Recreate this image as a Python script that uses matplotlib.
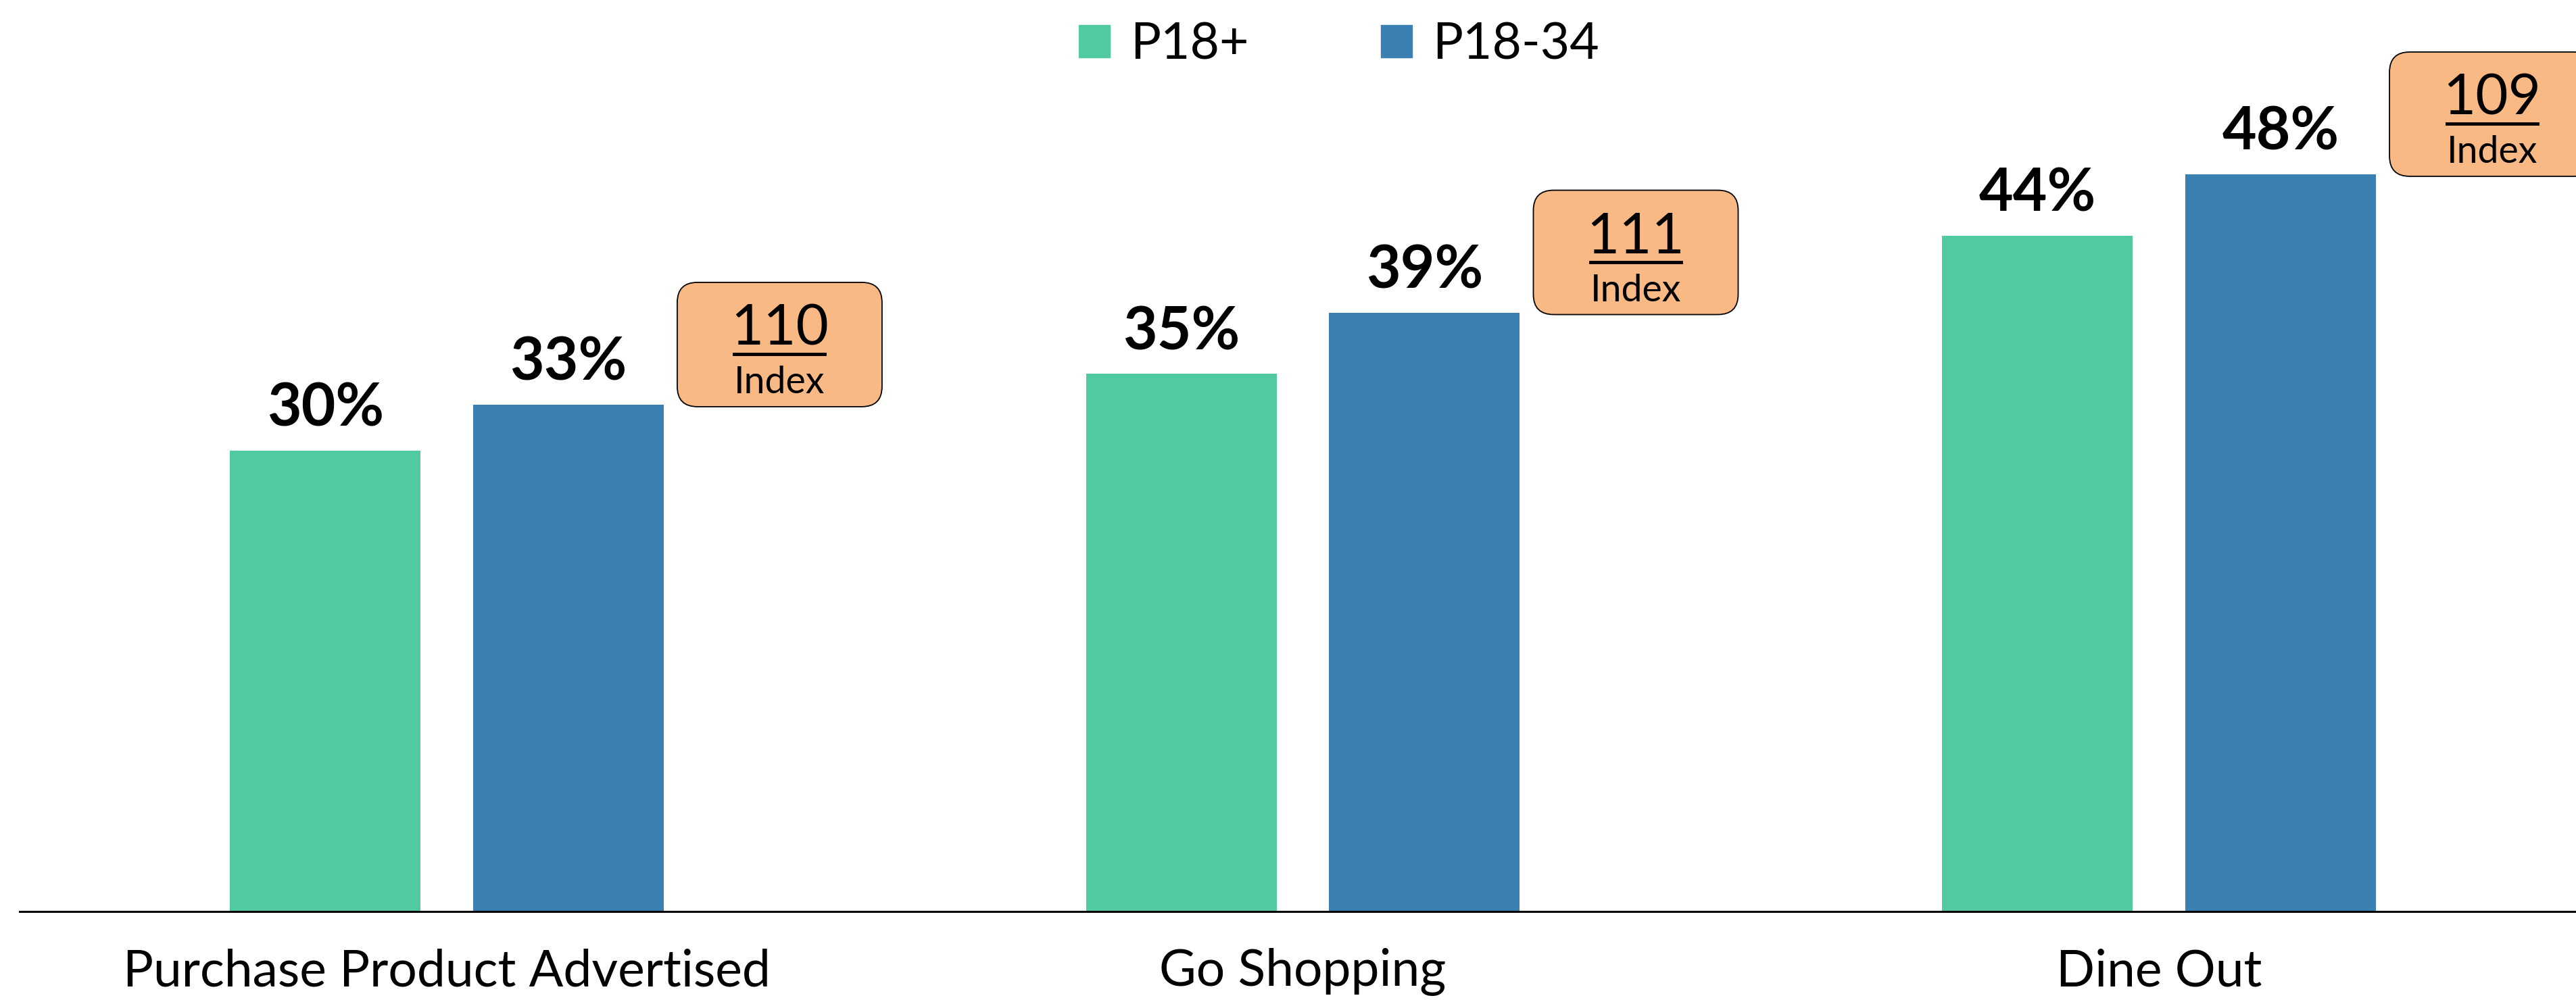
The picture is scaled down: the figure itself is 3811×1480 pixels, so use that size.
import matplotlib
matplotlib.use('Agg')
import matplotlib.pyplot as plt
import matplotlib.transforms as mtransforms
from matplotlib.patches import FancyBboxPatch, Patch
from matplotlib.lines import Line2D
import numpy as np

plt.rcParams['font.family'] = ['Lato', 'DejaVu Sans']

categories = ['Purchase Product Advertised', 'Go Shopping', 'Dine Out']
series_names = ['P18+', 'P18-34']
p18_plus = [30, 35, 44]
p18_34 = [33, 39, 48]
index_values = [110, 111, 109]

green = '#52CAA0'
blue = '#3A80B3'
badge_color = '#F9B984'

W, H, DPI = 3811, 1480, 100
fig = plt.figure(figsize=(W / DPI, H / DPI), dpi=DPI)

base_px = 1349
ax = fig.add_axes([29 / W, (H - base_px) / H, 1 - 29 / W, base_px / H])
ax.set_xlim(-0.499, 2.487)
ax.set_ylim(0, base_px / 22.73)

x = np.arange(len(categories))
off = 0.142
bw = 0.2227
ax.bar(x - off, p18_plus, width=bw, color=green, zorder=2)
ax.bar(x + off, p18_34, width=bw, color=blue, zorder=2)

# value labels
for xi, v in zip(x - off, p18_plus):
    ax.annotate(f'{v}%', (xi, v), xytext=(0, 26), textcoords='offset points',
                ha='center', va='baseline', fontsize=63, fontweight='bold')
for xi, v in zip(x + off, p18_34):
    ax.annotate(f'{v}%', (xi, v), xytext=(0, 26), textcoords='offset points',
                ha='center', va='baseline', fontsize=63, fontweight='bold')

# axis
for s in ['top', 'right', 'left']:
    ax.spines[s].set_visible(False)
ax.spines['bottom'].set_linewidth(2.2)
ax.spines['bottom'].set_color('black')
ax.set_yticks([])
ax.set_xticks([])

trans = mtransforms.blended_transform_factory(ax.transData, ax.transAxes)
for xi, c in zip(x, categories):
    ax.text(xi, -110 / base_px, c, transform=trans, ha='center', va='baseline',
            fontsize=54)

# legend
handles = [Patch(color=green, label=series_names[0]),
           Patch(color=blue, label=series_names[1])]
fig.legend(handles=handles, loc='center', bbox_to_anchor=(1981 / W, 1 - 66 / H),
           ncol=2, frameon=False, fontsize=54, handlelength=0.62,
           handleheight=0.62, handletextpad=0.4, columnspacing=2.6)

# index badges
ident = mtransforms.IdentityTransform()
bw_px, bh_px = 303, 184
for xi, v, idx in zip(x + off, p18_34, index_values):
    right_px = ax.transData.transform((xi + bw / 2, v))
    x0 = right_px[0] + 20
    y0 = right_px[1] - 3
    box = FancyBboxPatch((x0, y0), bw_px, bh_px,
                         boxstyle='round,pad=0,rounding_size=30',
                         facecolor=badge_color, edgecolor='black', linewidth=1.3,
                         transform=ident)
    fig.add_artist(box)
    cx = x0 + bw_px / 2
    fig.text(cx, y0 + 91, str(idx), transform=ident, ha='center', va='baseline',
             fontsize=60)
    fig.add_artist(Line2D([cx - 67, cx + 67], [y0 + 78, y0 + 78], color='black',
                          linewidth=3.5, transform=ident))
    fig.text(cx, y0 + 20, 'Index', transform=ident, ha='center', va='baseline',
             fontsize=40)

fig.savefig('out.png', dpi=DPI)
